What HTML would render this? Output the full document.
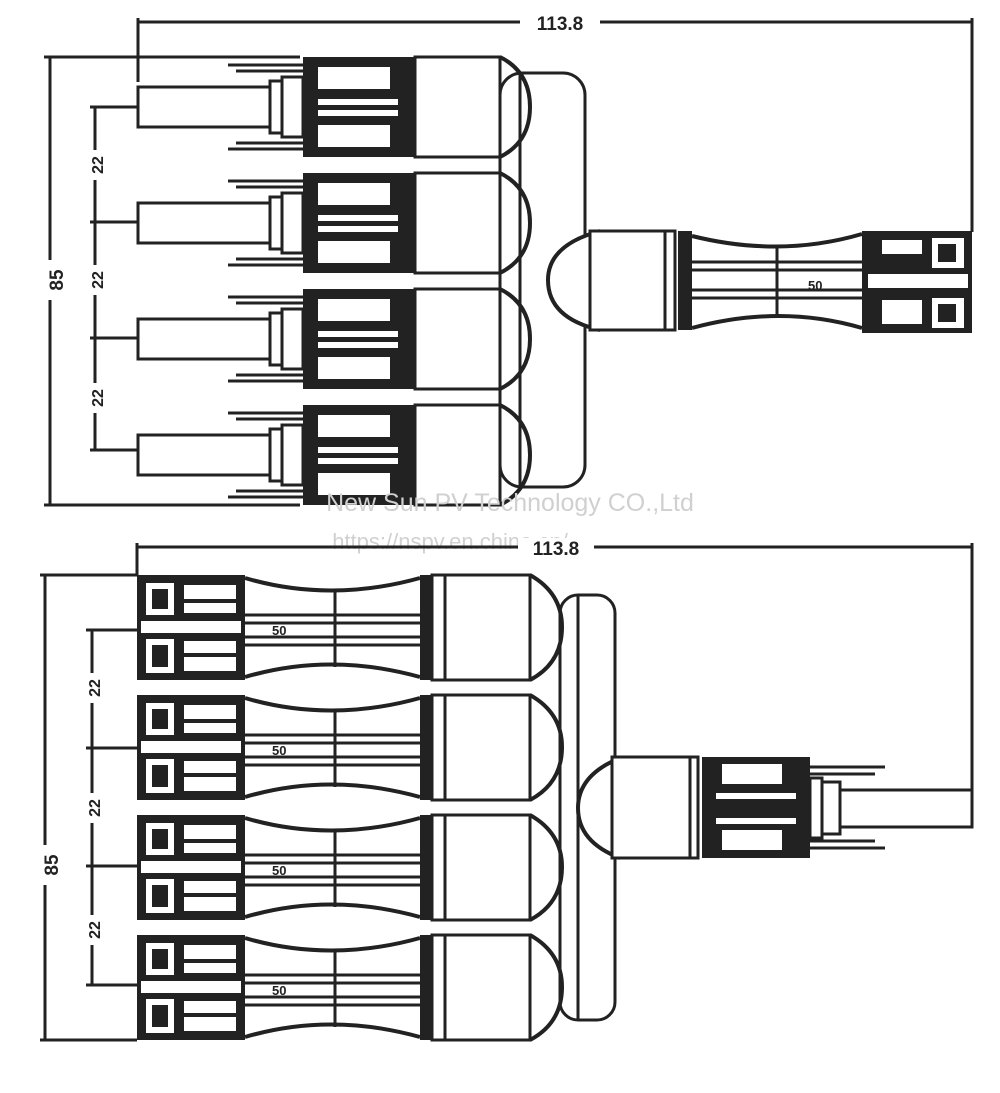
<!DOCTYPE html>
<html><head><meta charset="utf-8"><style>
html,body{margin:0;padding:0;background:#fff;}
svg{display:block;}
text{font-family:"Liberation Sans",sans-serif;fill:#222;}
</style></head><body>
<svg width="1000" height="1093" viewBox="0 0 1000 1093" xmlns="http://www.w3.org/2000/svg">
<defs>
<g id="tc">
  <path d="M228 8 H303 M236 14 H303 M228 92 H303 M236 86 H303" stroke="#222" stroke-width="3" fill="none"/>
  <rect x="138" y="30" width="132" height="40" fill="#fff" stroke="#222" stroke-width="3"/>
  <rect x="270" y="24" width="12" height="52" fill="#fff" stroke="#222" stroke-width="3"/>
  <rect x="282" y="20" width="21" height="60" fill="#fff" stroke="#222" stroke-width="3"/>
  <rect x="303" y="0" width="112" height="100" fill="#222"/>
  <rect x="318" y="10" width="72" height="22" fill="#fff"/>
  <rect x="318" y="68" width="72" height="22" fill="#fff"/>
  <rect x="318" y="42" width="80" height="6" fill="#fff"/>
  <rect x="318" y="53" width="80" height="6" fill="#fff"/>
  <rect x="415" y="0" width="85" height="100" fill="#fff" stroke="#222" stroke-width="3"/>
  <path d="M500 0 Q530 15 530 50 Q530 85 500 100" fill="none" stroke="#222" stroke-width="4"/>
</g>
<g id="bc">
  <rect x="137" y="0" width="108" height="105" fill="#222"/>
  <rect x="146" y="8" width="28" height="32" fill="#fff"/>
  <rect x="152" y="14" width="16" height="20" fill="#222"/>
  <rect x="184" y="10" width="52" height="14" fill="#fff"/>
  <rect x="184" y="28" width="52" height="10" fill="#fff"/>
  <rect x="146" y="64" width="28" height="34" fill="#fff"/>
  <rect x="152" y="70" width="16" height="22" fill="#222"/>
  <rect x="184" y="66" width="52" height="12" fill="#fff"/>
  <rect x="184" y="82" width="52" height="14" fill="#fff"/>
  <rect x="141" y="46" width="100" height="12" fill="#fff"/>
  <path d="M245 3 Q330 28 420 3 M245 102 Q330 77 420 102" fill="none" stroke="#222" stroke-width="4"/>
  <path d="M245 40 H420 M245 48 H420 M245 62 H420 M245 70 H420 M335 15 V92" fill="none" stroke="#222" stroke-width="3"/>
  <text x="272" y="60" font-size="13" font-weight="bold">50</text>
  <rect x="420" y="0" width="12" height="105" fill="#222"/>
  <rect x="432" y="0" width="98" height="105" fill="#fff" stroke="#222" stroke-width="3"/>
  <line x1="445" y1="0" x2="445" y2="105" stroke="#222" stroke-width="3"/>
  <path d="M530 0 Q562 18 562 52 Q562 88 530 105" fill="none" stroke="#222" stroke-width="4"/>
</g>
</defs>

<g stroke="#222" stroke-width="3" fill="none">
  <line x1="138" y1="22" x2="972" y2="22"/>
  <line x1="138" y1="18" x2="138" y2="82"/>
  <line x1="972" y1="18" x2="972" y2="232"/>
  <line x1="50" y1="57" x2="50" y2="505"/>
  <line x1="44" y1="57" x2="300" y2="57"/>
  <line x1="44" y1="505" x2="300" y2="505"/>
  <line x1="95" y1="107" x2="95" y2="450"/>
  <line x1="90" y1="107" x2="138" y2="107"/>
  <line x1="90" y1="222" x2="138" y2="222"/>
  <line x1="90" y1="338" x2="138" y2="338"/>
  <line x1="90" y1="450" x2="138" y2="450"/>
</g>
<rect x="520" y="12" width="80" height="20" fill="#fff"/>
<text x="560" y="30" font-size="19" font-weight="bold" text-anchor="middle">113.8</text>
<rect x="38" y="260" width="24" height="40" fill="#fff"/>
<text transform="translate(63,280) rotate(-90)" font-size="19" font-weight="bold" text-anchor="middle">85</text>
<g font-size="16" font-weight="bold" text-anchor="middle">
<rect x="86" y="150" width="18" height="30" fill="#fff"/><text transform="translate(103,165) rotate(-90)">22</text>
<rect x="86" y="265" width="18" height="30" fill="#fff"/><text transform="translate(103,280) rotate(-90)">22</text>
<rect x="86" y="383" width="18" height="30" fill="#fff"/><text transform="translate(103,398) rotate(-90)">22</text>
</g>
<rect x="500" y="73" width="85" height="414" rx="22" fill="#fff" stroke="#222" stroke-width="3"/>
<line x1="520" y1="73" x2="520" y2="487" stroke="#222" stroke-width="3"/>
<use href="#tc" transform="translate(0,57)"/>
<use href="#tc" transform="translate(0,173)"/>
<use href="#tc" transform="translate(0,289)"/>
<use href="#tc" transform="translate(0,405)"/>
<path d="M600 231 Q548 245 548 280 Q548 318 600 330" fill="#fff" stroke="#222" stroke-width="4"/>
<rect x="590" y="231" width="75" height="99" fill="#fff" stroke="#222" stroke-width="3"/>
<rect x="665" y="231" width="10" height="99" fill="#fff" stroke="#222" stroke-width="3"/>
<rect x="678" y="231" width="14" height="99" fill="#222"/>
<path d="M692 236 Q780 258 862 234 M692 328 Q780 304 862 328" fill="none" stroke="#222" stroke-width="4"/>
<path d="M692 262 H862 M692 270 H862 M692 290 H862 M692 298 H862 M777 245 V318" fill="none" stroke="#222" stroke-width="3"/>
<text x="808" y="290" font-size="13" font-weight="bold">50</text>
<rect x="862" y="231" width="110" height="102" fill="#222"/>
<rect x="882" y="240" width="40" height="14" fill="#fff"/>
<rect x="932" y="238" width="32" height="30" fill="#fff"/><rect x="938" y="244" width="18" height="18" fill="#222"/>
<rect x="882" y="300" width="40" height="24" fill="#fff"/>
<rect x="932" y="298" width="32" height="30" fill="#fff"/><rect x="938" y="304" width="18" height="18" fill="#222"/>
<rect x="868" y="274" width="100" height="14" fill="#fff"/>

<text x="510" y="511" font-size="25" text-anchor="middle" style="fill:#d0d0d0">New Sun PV Technology CO.,Ltd</text>
<text x="450" y="549" font-size="22" text-anchor="middle" style="fill:#d0d0d0">https://nspv.en.china.cn/</text>

<g stroke="#222" stroke-width="3" fill="none">
  <line x1="137" y1="547" x2="972" y2="547"/>
  <line x1="137" y1="543" x2="137" y2="575"/>
  <line x1="972" y1="543" x2="972" y2="827"/>
  <line x1="45" y1="575" x2="45" y2="1040"/>
  <line x1="40" y1="575" x2="137" y2="575"/>
  <line x1="40" y1="1040" x2="137" y2="1040"/>
  <line x1="92" y1="630" x2="92" y2="985"/>
  <line x1="86" y1="630" x2="137" y2="630"/>
  <line x1="86" y1="748" x2="137" y2="748"/>
  <line x1="86" y1="866" x2="137" y2="866"/>
  <line x1="86" y1="985" x2="137" y2="985"/>
</g>
<rect x="518" y="538" width="76" height="18" fill="#fff"/>
<text x="556" y="555" font-size="19" font-weight="bold" text-anchor="middle">113.8</text>
<rect x="33" y="845" width="24" height="40" fill="#fff"/>
<text transform="translate(58,865) rotate(-90)" font-size="19" font-weight="bold" text-anchor="middle">85</text>
<g font-size="16" font-weight="bold" text-anchor="middle">
<rect x="83" y="673" width="18" height="30" fill="#fff"/><text transform="translate(100,688) rotate(-90)">22</text>
<rect x="83" y="793" width="18" height="30" fill="#fff"/><text transform="translate(100,808) rotate(-90)">22</text>
<rect x="83" y="915" width="18" height="30" fill="#fff"/><text transform="translate(100,930) rotate(-90)">22</text>
</g>
<rect x="560" y="595" width="55" height="425" rx="18" fill="#fff" stroke="#222" stroke-width="3"/>
<line x1="578" y1="595" x2="578" y2="1020" stroke="#222" stroke-width="3"/>
<use href="#bc" transform="translate(0,575)"/>
<use href="#bc" transform="translate(0,695)"/>
<use href="#bc" transform="translate(0,815)"/>
<use href="#bc" transform="translate(0,935)"/>
<path d="M620 758 Q578 775 578 808 Q578 842 620 858" fill="#fff" stroke="#222" stroke-width="4"/>
<rect x="612" y="757" width="78" height="101" fill="#fff" stroke="#222" stroke-width="3"/>
<rect x="690" y="757" width="8" height="101" fill="#fff" stroke="#222" stroke-width="3"/>
<rect x="702" y="757" width="108" height="101" fill="#222"/>
<rect x="722" y="764" width="60" height="20" fill="#fff"/>
<rect x="722" y="830" width="60" height="20" fill="#fff"/>
<rect x="716" y="793" width="80" height="6" fill="#fff"/>
<rect x="716" y="818" width="80" height="6" fill="#fff"/>
<path d="M810 767 H885 M810 774 H875 M810 848 H885 M810 841 H875" stroke="#222" stroke-width="3" fill="none"/>
<rect x="810" y="778" width="12" height="60" fill="#fff" stroke="#222" stroke-width="3"/>
<rect x="822" y="782" width="18" height="52" fill="#fff" stroke="#222" stroke-width="3"/>
<rect x="840" y="790" width="132" height="37" fill="#fff" stroke="#222" stroke-width="3"/>
</svg>
</body></html>
